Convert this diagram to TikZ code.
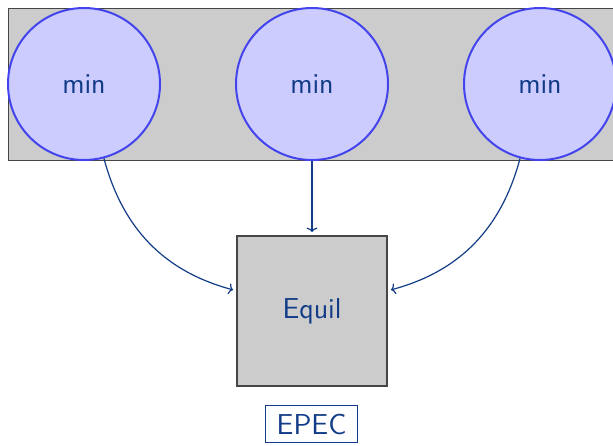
\documentclass[tikz,border=0pt]{standalone}
\usepackage{tikz}
\usetikzlibrary{arrows.meta}
\definecolor{structblue}{RGB}{18,60,135}
\definecolor{ringblue}{RGB}{68,68,238}
\definecolor{frame}{RGB}{70,70,70}

\begin{document}
\begin{tikzpicture}[x=0.5pt, y=-0.5pt, >={To[width=5.5pt,length=2.2pt]},
  font=\sffamily\fontsize{14.4pt}{17pt}\selectfont,
  player/.style={circle, draw=ringblue, line width=1pt, fill=blue!20,
    text=structblue, minimum size=76pt, inner sep=0pt},
  market/.style={rectangle, draw=frame, line width=1pt, fill=black!20,
    text=structblue, minimum size=75pt, outer sep=2pt},
  tag/.style={rectangle, draw=structblue, line width=0.5pt, text=structblue,
    inner xsep=5.5pt, inner ysep=4pt},
  link/.style={->, structblue, line width=0.6pt}]

\useasboundingbox (0,0) rectangle (613,445);

% Background band of the leaders
\draw[frame, line width=0.5pt, fill=black!20] (8,8) rectangle (630,160);

% Leader problems
\node[player] (m1) at (84,84) {min};
\node[player] (m2) at (312,84) {min};
\node[player] (m3) at (540,84) {min};

% Equilibrium block
\node[market] (eq) at (312,311) {Equil};

% Links to the equilibrium
\draw[link] (m1) to[out=-75, in=165] (eq);
\draw[link] (m2) -- (eq);
\draw[link] (m3) to[out=-105, in=15] (eq);

% Label
\node[tag] (epec) at (311.5,424) {EPEC};

\end{tikzpicture}
\end{document}
